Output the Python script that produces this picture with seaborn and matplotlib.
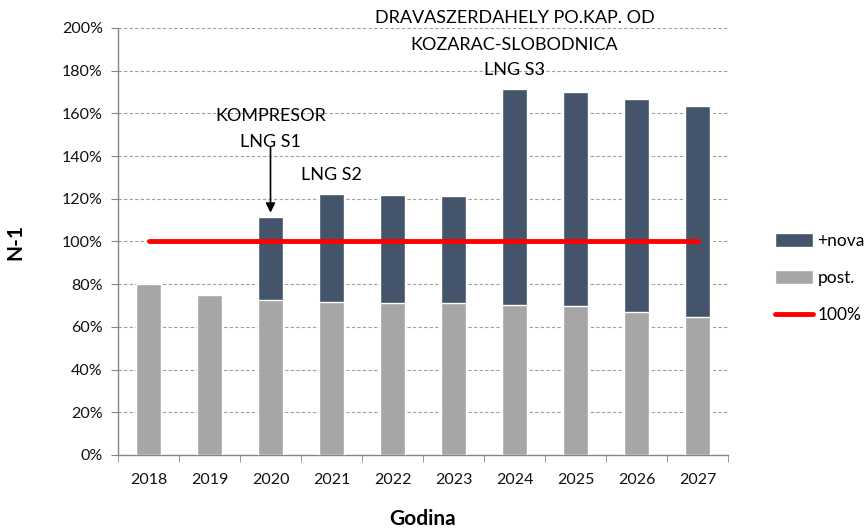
import matplotlib
matplotlib.use("Agg")
import matplotlib.pyplot as plt
import matplotlib.ticker as mticker
from matplotlib.patches import Patch
from matplotlib.lines import Line2D
import numpy as np
import pandas as pd
import seaborn as sns

years = ["2018", "2019", "2020", "2021", "2022", "2023", "2024", "2025", "2026", "2027"]
post = [80, 75, 72.5, 71.5, 71, 71, 70.3, 69.6, 67, 64.8]
total = [80, 75, 111.6, 122.3, 121.6, 121.2, 171.3, 170, 166.6, 163.6]
limit = [100] * len(years)

DARK = "#44546A"
GRAY = "#A6A6A6"
RED = "#FF0000"

sns.set_style("white")
plt.rcParams["font.family"] = ["Lato", "DejaVu Sans"]
plt.rcParams["text.color"] = "black"
plt.rcParams["axes.labelcolor"] = "black"
plt.rcParams["xtick.labelcolor"] = "#111111"
plt.rcParams["ytick.labelcolor"] = "#111111"

df = pd.DataFrame({"year": years, "post": post, "total": total})

fig = plt.figure(figsize=(8.67, 5.28), dpi=100)
ax = fig.add_axes([118 / 867, 1 - 455 / 528, 610 / 867, 427 / 528])

sns.barplot(data=df, x="year", y="total", color=DARK, width=0.42,
            saturation=1, ax=ax, zorder=3)
sns.barplot(data=df, x="year", y="post", color=GRAY, width=0.42,
            saturation=1, ax=ax, zorder=3)
ax.plot(np.arange(len(years)), limit, color=RED, lw=3.5, zorder=4,
        solid_capstyle="round")

ax.set_xlim(-0.5, len(years) - 0.5)
ax.set_ylim(0, 200)
ax.yaxis.set_major_locator(mticker.MultipleLocator(20))
ax.yaxis.set_major_formatter(mticker.FuncFormatter(lambda v, p: f"{v:.0f}%"))
ax.yaxis.grid(True, color="#A0A0A0", linestyle=(0, (3, 2)), lw=0.8, zorder=0)
ax.set_axisbelow(True)

for s in ["top", "right"]:
    ax.spines[s].set_visible(False)
for s in ["left", "bottom"]:
    ax.spines[s].set_color("#868686")
    ax.spines[s].set_linewidth(1)

ax.tick_params(axis="y", direction="out", length=5, color="#868686",
               labelsize=11.5, pad=6, left=True)
ax.xaxis.set_minor_locator(mticker.FixedLocator(np.arange(-0.5, len(years), 1)))
ax.tick_params(axis="x", which="major", length=0, labelsize=11.5, pad=13)
ax.tick_params(axis="x", which="minor", direction="out", length=5,
               color="#868686", bottom=True)

ax.set_xlabel("Godina", fontsize=15, fontweight="bold", labelpad=16)
ax.set_ylabel("N-1", fontsize=15, fontweight="bold", labelpad=26)

txt = dict(ha="center", va="center", fontsize=13, color="black")
ax.text(2, 159, "KOMPRESOR", **txt)
ax.text(2, 146.5, "LNG S1", **txt)
ax.annotate("", xy=(2, 113.5), xytext=(2, 144),
            arrowprops=dict(arrowstyle="-|>", color="black", lw=1.2,
                            mutation_scale=14, shrinkA=0, shrinkB=0))
ax.text(3, 131, "LNG S2", **txt)
ax.text(6, 204.5, "DRAVASZERDAHELY PO.KAP. OD", clip_on=False, **txt)
ax.text(6, 192, "KOZARAC-SLOBODNICA", **txt)
ax.text(6, 180.3, "LNG S3", **txt)

handles = [Patch(facecolor=DARK, label="+nova"),
           Patch(facecolor=GRAY, label="post."),
           Line2D([0], [0], color=RED, lw=3.5, label="100%")]
fig.legend(handles=handles, loc="center left",
           bbox_to_anchor=(768 / 867, 1 - 278 / 528), frameon=False,
           fontsize=12.5, handlelength=2.2, handleheight=0.9,
           labelspacing=1.2, handletextpad=0.25, borderaxespad=0)

fig.savefig("out.png", dpi=100)
